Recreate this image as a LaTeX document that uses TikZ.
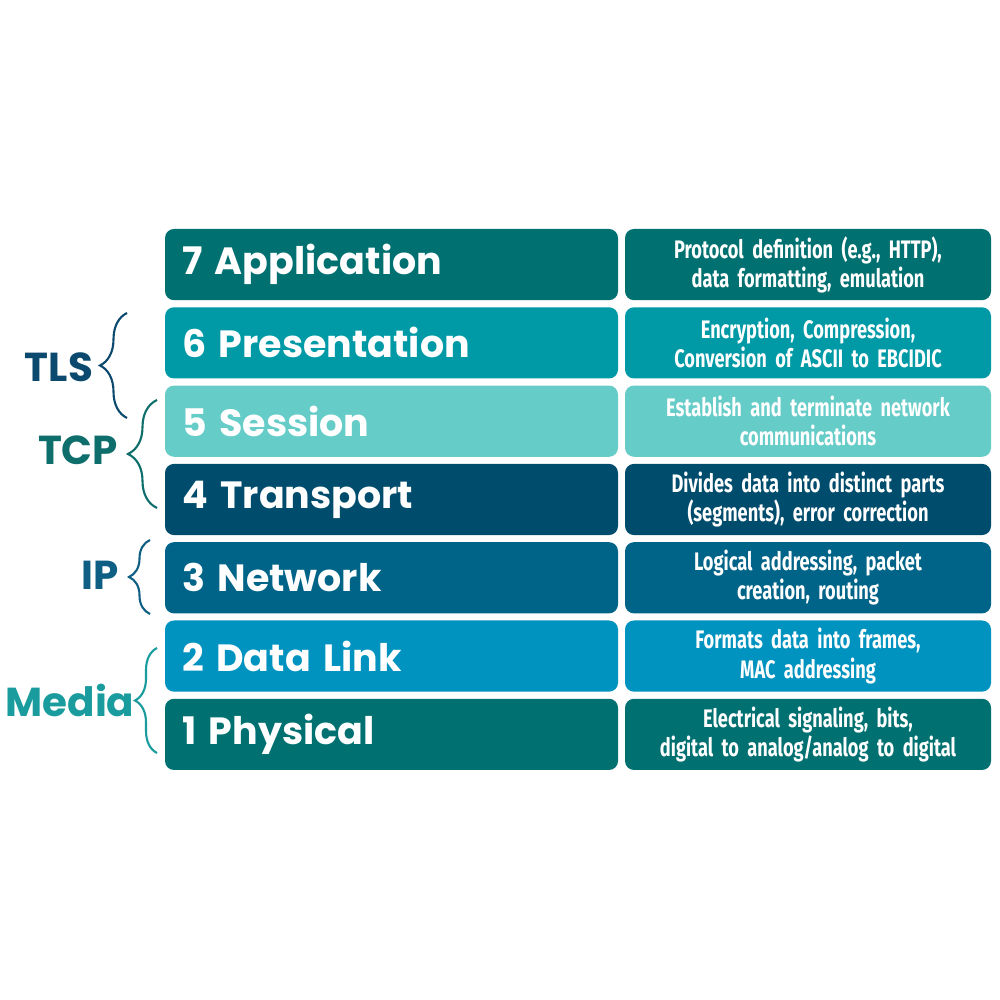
\documentclass[tikz,border=0pt]{standalone}
\usepackage{fontspec}
\usepackage{tikz}
\usetikzlibrary{
  decorations.pathreplacing,
  positioning
}
\newfontfamily\layerfont{Poppins}
\newfontfamily\descfont[FakeStretch=0.72]{Fira Sans}
\definecolor{appteal}{RGB}{0,112,112}
\definecolor{presteal}{RGB}{0,154,166}
\definecolor{sessmint}{RGB}{102,204,200}
\definecolor{transnavy}{RGB}{0,76,108}
\definecolor{netblue}{RGB}{0,100,136}
\definecolor{linkblue}{RGB}{0,147,191}
\definecolor{tlsnavy}{RGB}{11,74,110}
\definecolor{tcpteal}{RGB}{14,110,107}
\definecolor{ipblue}{RGB}{15,95,133}
\definecolor{mediateal}{RGB}{26,156,158}
\tikzset{
  layer/.style={rounded corners=0.09cm,minimum height=0.712cm,text width=4.19cm,
    inner xsep=0.17cm,inner ysep=0pt,outer sep=0pt,align=left,text=white,
    font=\layerfont\bfseries\fontsize{10.8}{12}\selectfont},
  role/.style={rounded corners=0.09cm,minimum height=0.712cm,text width=3.5cm,
    inner xsep=0.08cm,inner ysep=0pt,outer sep=0pt,align=center,text=white,
    font=\descfont\bfseries\fontsize{7.2}{8.3}\selectfont},
  tag/.style={font=\layerfont\bfseries\fontsize{11.5}{13}\selectfont},
  bracket/.style={decorate,decoration={brace,amplitude=#1},line width=0.6pt}
}
\begin{document}
\begin{tikzpicture}[node distance=0.071cm and 0.07cm]
  \useasboundingbox[fill=white] (0,0) rectangle (10,10);
  \node[layer,fill=appteal,anchor=north west] (app) at (1.65,7.71) {7 Application};
  \node[layer,fill=presteal,below=of app] (pres) {6 Presentation};
  \node[layer,fill=sessmint,below=of pres] (sess) {5 Session};
  \node[layer,fill=transnavy,below=of sess] (trans) {4 Transport};
  \node[layer,fill=netblue,below=of trans] (net) {3 Network};
  \node[layer,fill=linkblue,below=of net] (link) {2 Data Link};
  \node[layer,fill=appteal,below=of link] (phys) {1 Physical};
  \node[role,fill=appteal,right=of app] (appdesc) {Protocol definition (e.g., HTTP),\\data formatting, emulation};
  \node[role,fill=presteal,right=of pres] (presdesc) {Encryption, Compression,\\Conversion of ASCII to EBCIDIC};
  \node[role,fill=sessmint,right=of sess] (sessdesc) {Establish and terminate network\\communications};
  \node[role,fill=transnavy,right=of trans] (transdesc) {Divides data into distinct parts\\(segments), error correction};
  \node[role,fill=netblue,right=of net] (netdesc) {Logical addressing, packet\\creation, routing};
  \node[role,fill=linkblue,right=of link] (linkdesc) {Formats data into frames,\\MAC addressing};
  \node[role,fill=appteal,right=of phys] (physdesc) {Electrical signaling, bits,\\digital to analog/analog to digital};
  \coordinate (tlstop) at (1.27,6.87);
  \coordinate (tlsbot) at (1.27,5.82);
  \coordinate (tcptop) at (1.57,6.00);
  \coordinate (tcpbot) at (1.57,4.92);
  \coordinate (iptop) at (1.50,4.60);
  \coordinate (ipbot) at (1.50,3.86);
  \coordinate (mediatop) at (1.57,3.52);
  \coordinate (mediabot) at (1.57,2.47);
  \draw[bracket=0.27cm,tlsnavy] (tlsbot) -- (tlstop);
  \draw[bracket=0.29cm,tcpteal] (tcpbot) -- (tcptop);
  \draw[bracket=0.21cm,ipblue] (ipbot) -- (iptop);
  \draw[bracket=0.22cm,mediateal] (mediabot) -- (mediatop);
  \node[tag,text=tlsnavy] (tls) at (0.59,6.33) {TLS};
  \node[tag,text=tcpteal] (tcp) at (0.78,5.50) {TCP};
  \node[tag,text=ipblue] (ip) at (1.00,4.25) {IP};
  \node[tag,text=mediateal] (media) at (0.70,3.00) {Media};
\end{tikzpicture}
\end{document}
